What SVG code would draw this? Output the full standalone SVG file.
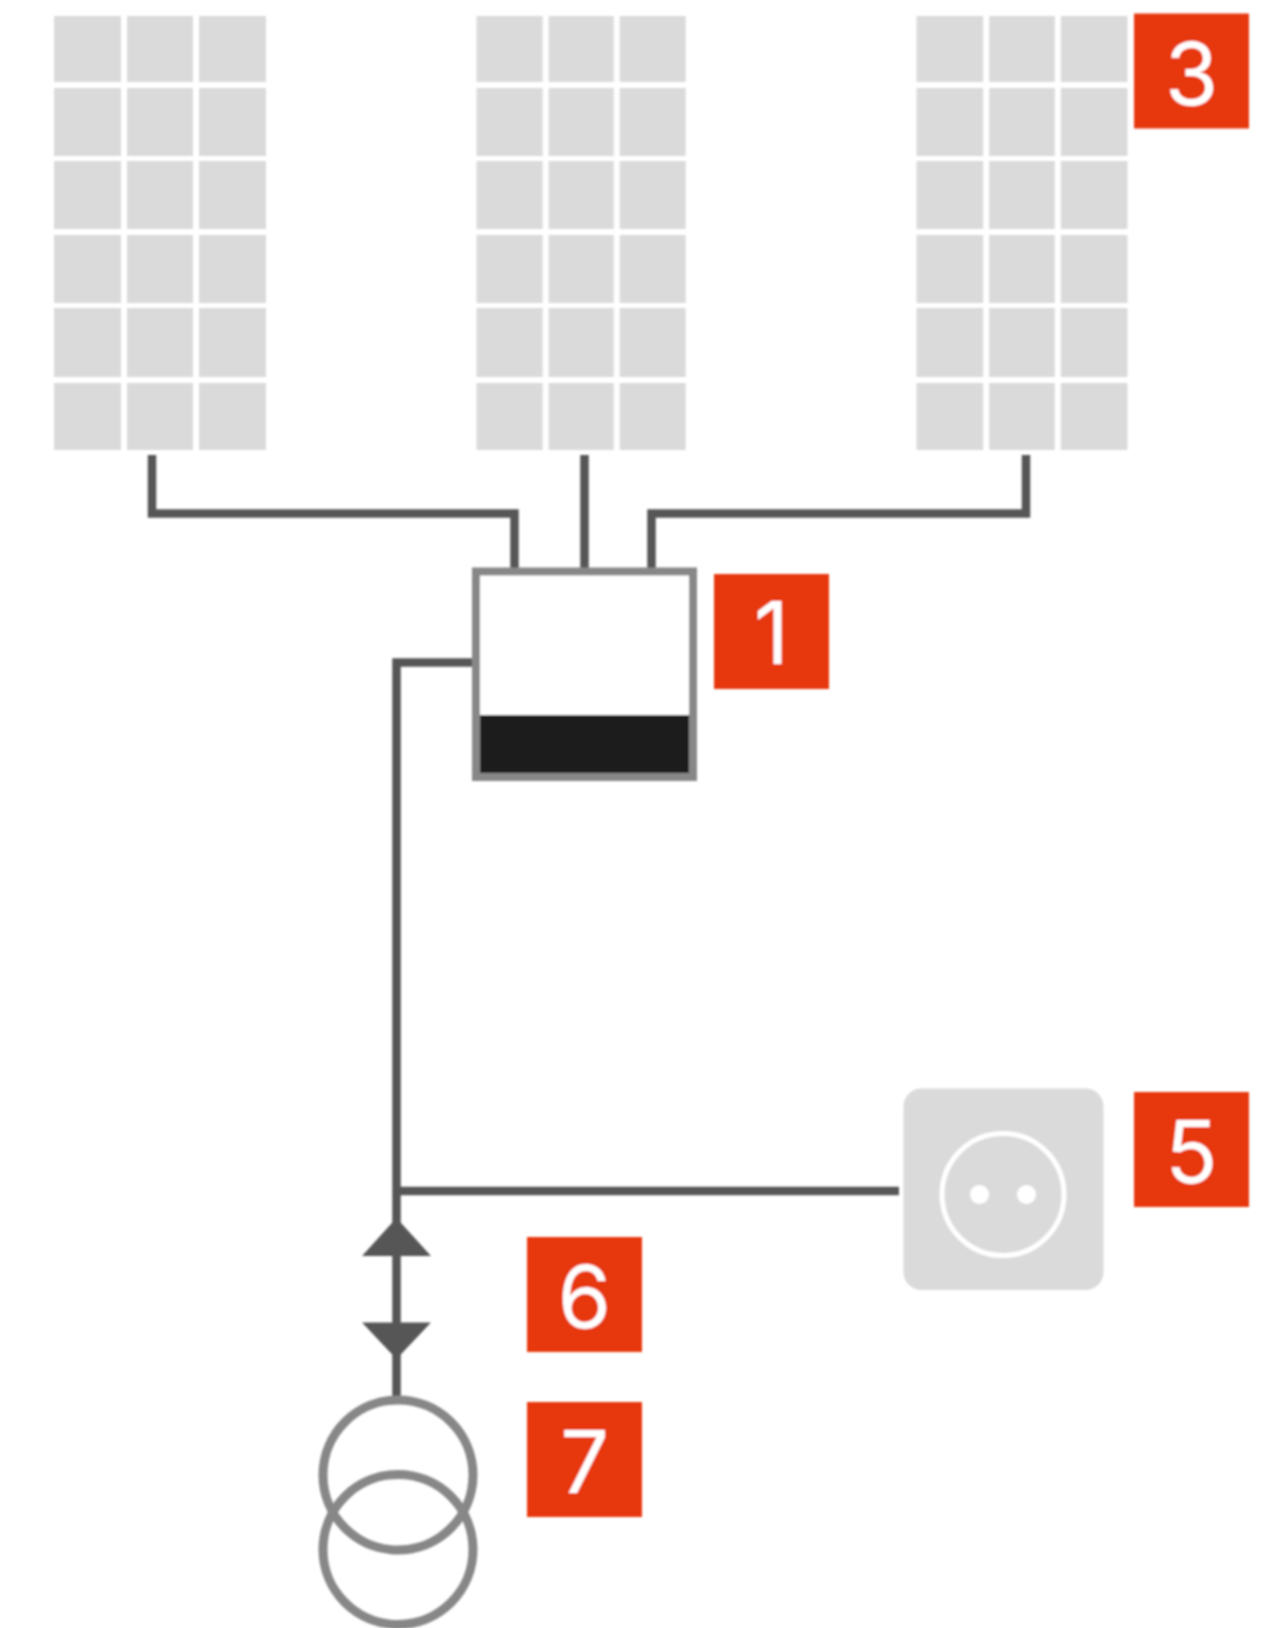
<svg xmlns="http://www.w3.org/2000/svg" width="1282" height="1628" viewBox="0 0 1282 1628">
<style>
.cell{fill:#dadada}
.wire{fill:none;stroke:#575756;stroke-width:8.5;stroke-linejoin:miter}
.arrow{fill:#575756}
.ring{fill:none;stroke:#878787;stroke-width:9}
.badge{fill:#e73710}
.num{fill:#fff;font-family:Inter,"Liberation Sans",Arial,sans-serif;font-size:86px;font-weight:400;text-anchor:middle}
</style>
<defs>
<filter id="soft" filterUnits="userSpaceOnUse" x="0" y="0" width="1282" height="1628"><feGaussianBlur stdDeviation="0.8"/></filter>
<g id="panel">
<rect class="cell" x="0" y="0" width="67" height="66"/><rect class="cell" x="73" y="0" width="66" height="66"/><rect class="cell" x="145" y="0" width="67" height="66"/>
<rect class="cell" x="0" y="72" width="67" height="68"/><rect class="cell" x="73" y="72" width="66" height="68"/><rect class="cell" x="145" y="72" width="67" height="68"/>
<rect class="cell" x="0" y="145" width="67" height="68"/><rect class="cell" x="73" y="145" width="66" height="68"/><rect class="cell" x="145" y="145" width="67" height="68"/>
<rect class="cell" x="0" y="219" width="67" height="68"/><rect class="cell" x="73" y="219" width="66" height="68"/><rect class="cell" x="145" y="219" width="67" height="68"/>
<rect class="cell" x="0" y="292" width="67" height="69"/><rect class="cell" x="73" y="292" width="66" height="69"/><rect class="cell" x="145" y="292" width="67" height="69"/>
<rect class="cell" x="0" y="367" width="67" height="67"/><rect class="cell" x="73" y="367" width="66" height="67"/><rect class="cell" x="145" y="367" width="67" height="67"/>
</g>
</defs>
<rect width="1282" height="1628" fill="#fff"/>
<g filter="url(#soft)">
<g id="panel-left"><use href="#panel" x="54" y="16"/></g>
<g id="panel-middle"><use href="#panel" transform="translate(476.5 16) scale(.988 1)"/></g>
<g id="panel-right"><use href="#panel" transform="translate(916.5 16) scale(.995 1)"/></g>
<g id="connectors">
<path class="wire" d="M152 455V513.5H514.5V570"/>
<path class="wire" d="M584.5 455V570"/>
<path class="wire" d="M1026 455V513.5H651.5V570"/>
<path class="wire" d="M475 662.5H396.5V1396"/>
<path class="wire" d="M396.5 1191H899"/>
<polygon class="arrow" points="396.5,1218 431,1256 362,1256"/>
<polygon class="arrow" points="362,1322.5 431,1322.5 396.5,1359"/>
</g>
<g id="inverter">
<rect x="476" y="571.5" width="217" height="205.5" fill="#fff" stroke="#878787" stroke-width="8"/>
<rect x="480" y="715" width="209" height="58" fill="#1d1d1b"/>
</g>
<g id="socket">
<rect x="903.5" y="1088.5" width="200" height="201.5" rx="18" fill="#dadada"/>
<circle cx="1003" cy="1194.5" r="61" fill="none" stroke="#fff" stroke-width="5"/>
<circle cx="979.5" cy="1194.5" r="9.5" fill="#fff"/>
<circle cx="1026.5" cy="1194.5" r="9.5" fill="#fff"/>
</g>
<g id="transformer">
<circle class="ring" cx="398" cy="1475" r="75"/>
<circle class="ring" cx="398" cy="1549.5" r="75"/>
</g>
<g id="badge-3"><rect class="badge" x="1134" y="13.5" width="115" height="115"/><text class="num" x="1191.5" y="104.5">3</text></g>
<g id="badge-1"><rect class="badge" x="714" y="574" width="115" height="115"/><text class="num" x="771.5" y="664">1</text></g>
<g id="badge-5"><rect class="badge" x="1134" y="1092" width="115" height="115"/><text class="num" x="1191.5" y="1182.5">5</text></g>
<g id="badge-6"><rect class="badge" x="527" y="1237" width="115" height="115"/><text class="num" x="584.5" y="1327.5">6</text></g>
<g id="badge-7"><rect class="badge" x="527" y="1402" width="115" height="115"/><text class="num" x="584.5" y="1492.5">7</text></g>
</g>
</svg>
